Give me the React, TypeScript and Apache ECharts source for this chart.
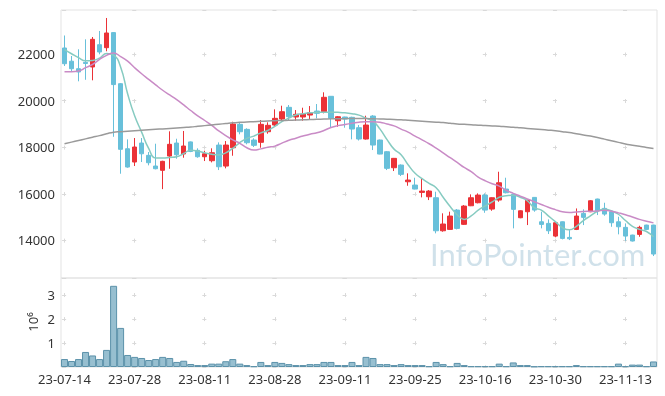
import React, { useEffect, useRef } from "react";
import * as echarts from "echarts";

const dates = [
  "23-07-14","23-07-17","23-07-18","23-07-19","23-07-20","23-07-21","23-07-24","23-07-25","23-07-26","23-07-27",
  "23-07-28","23-07-31","23-08-01","23-08-02","23-08-03","23-08-04","23-08-07","23-08-08","23-08-09","23-08-10",
  "23-08-11","23-08-14","23-08-16","23-08-17","23-08-18","23-08-21","23-08-22","23-08-23","23-08-24","23-08-25",
  "23-08-28","23-08-29","23-08-30","23-08-31","23-09-01","23-09-04","23-09-05","23-09-06","23-09-07","23-09-08",
  "23-09-11","23-09-12","23-09-13","23-09-14","23-09-15","23-09-18","23-09-19","23-09-20","23-09-21","23-09-22",
  "23-09-25","23-09-26","23-09-27","23-10-04","23-10-05","23-10-06","23-10-10","23-10-11","23-10-12","23-10-13",
  "23-10-16","23-10-17","23-10-18","23-10-19","23-10-20","23-10-23","23-10-24","23-10-25","23-10-26","23-10-27",
  "23-10-30","23-10-31","23-11-01","23-11-02","23-11-03","23-11-06","23-11-07","23-11-08","23-11-09","23-11-10",
  "23-11-13","23-11-14","23-11-15","23-11-16","23-11-17",
];

const opens = [
  22267,21699,21376,21650,21450,22408,22280,22928,20732,17936,
  17365,18181,17653,17193,17008,17622,18181,17710,18230,17867,
  17592,17421,18095,17192,17979,18986,18770,18310,18212,18667,
  18956,19214,19717,19300,19300,19385,19557,19528,20190,19140,
  19300,19287,18840,18354,19342,18310,17808,17120,17235,16517,
  16375,16060,15872,15830,14410,14470,15300,14686,15485,15615,
  15945,15343,15731,16203,15976,14970,15228,15845,14797,14728,
  14182,14797,14125,14470,15157,15228,15774,15373,15228,14797,
  14557,14225,14255,14655,14655,
];
const closes = [
  21591,21376,21235,21600,22640,22095,22912,20694,17911,17150,
  18010,17720,17335,17077,17395,18126,17678,18053,17820,17592,
  17721,17765,17162,18095,18998,18667,18195,18083,18986,18943,
  19243,19528,19313,19416,19428,19485,19458,20147,19243,19312,
  19213,18784,18354,18956,18095,17708,17094,17523,16835,16590,
  16203,16117,16117,14410,14700,15043,14513,15472,15830,15945,
  15300,15830,16475,16045,15330,15270,15730,15300,14685,14410,
  14755,14083,14067,15043,14986,15700,15270,15128,14755,14582,
  14182,13970,14557,14470,13410,
];
const lows = [
  21494,21234,20835,20900,20878,21995,22125,18450,16862,17120,
  17193,17365,17222,17050,16200,17076,17506,17550,17790,17550,
  17407,17350,17020,17094,17635,18556,18126,18010,17979,18582,
  18870,19098,19170,19140,19140,19200,19243,19458,18857,18883,
  18840,18340,18290,18330,17880,17695,17020,16978,16762,16345,
  16190,15846,15730,14300,14370,14450,14470,14660,15470,15588,
  15184,15270,15657,16017,14514,14950,14655,15228,14514,14270,
  14130,14040,14010,14440,14655,15210,15085,15056,14582,14256,
  13980,13950,14153,14440,13323,
];
const highs = [
  22804,21923,22211,22640,22740,22998,23557,22950,20760,18340,
  18397,18397,17795,18152,17420,18685,18367,18700,18250,17954,
  17850,17954,18210,18267,19097,19054,18814,18384,19170,19072,
  19630,19786,19816,19600,19700,19772,19858,20362,20200,19342,
  19313,19313,18955,19356,19380,18330,17837,17540,17265,16879,
  16690,16662,16160,16088,15160,15230,15343,15515,15975,16017,
  16017,15845,16948,16690,16017,15290,15745,15860,15228,14900,
  14770,14810,14440,15370,15330,15730,15790,15615,15300,15013,
  14727,14240,14626,14670,14670,
];
const ma5 = [
  22200,22020,21850,21720,21730,21830,22030,21960,21450,20300,
  19350,18650,17950,17540,17540,17560,17590,17730,17870,17840,
  17760,17700,17670,17760,17950,18200,18380,18480,18620,18720,
  18900,19100,19250,19390,19440,19480,19500,19510,19510,19500,
  19480,19440,19380,19250,19120,18780,18330,17920,17680,17250,
  16880,16650,16450,16260,15850,15450,15100,14900,15050,15300,
  15480,15650,15850,15920,15940,15850,15700,15400,15300,15050,
  14800,14550,14450,14600,14850,15050,15250,15330,15270,15120,
  14850,14600,14470,14380,14150,
];
const ma20 = [
  21250,21250,21280,21420,21560,21780,21950,22050,21900,21700,
  21420,21160,20920,20680,20450,20250,20050,19820,19580,19350,
  19150,18940,18700,18500,18320,18170,17980,17880,17930,18000,
  18050,18180,18300,18390,18480,18560,18620,18720,18850,18930,
  18980,19030,19080,19100,19100,19080,19000,18920,18780,18650,
  18480,18320,18150,17960,17760,17550,17350,17130,16950,16720,
  16560,16430,16330,16150,16020,15900,15780,15660,15540,15420,
  15320,15230,15200,15220,15240,15250,15260,15290,15250,15180,
  15100,15000,14900,14820,14750,
];
const ma120 = [
  18150,18220,18290,18360,18430,18500,18580,18650,18670,18690,
  18710,18730,18750,18770,18790,18810,18830,18850,18870,18900,
  18930,18960,18990,19020,19050,19070,19085,19100,19115,19130,
  19140,19150,19160,19170,19180,19190,19200,19210,19220,19225,
  19230,19235,19240,19235,19225,19215,19205,19195,19180,19160,
  19140,19120,19100,19080,19060,19030,19000,18985,18970,18950,
  18930,18915,18900,18880,18860,18835,18810,18785,18760,18735,
  18710,18670,18630,18580,18530,18480,18420,18350,18280,18210,
  18140,18090,18040,17990,17950,
];
const volumes = [
  330000,250000,330000,625000,480000,330000,710000,3375000,1625000,500000,
  420000,375000,290000,330000,420000,375000,210000,260000,125000,80000,
  80000,140000,140000,240000,330000,140000,80000,30000,210000,80000,
  210000,170000,120000,80000,80000,120000,120000,210000,210000,80000,
  80000,210000,80000,420000,375000,120000,120000,80000,120000,80000,
  80000,80000,30000,210000,120000,30000,170000,80000,30000,30000,
  30000,30000,140000,30000,190000,80000,80000,20000,30000,30000,
  30000,30000,30000,80000,30000,30000,30000,30000,30000,140000,
  30000,100000,100000,30000,230000,
];

const W = 665;
const H = 396;
const GL = 61;
const GR = 8;
const PT = 10;
const PH = 268;
const VT = 278;
const VH = 89;
const PMIN = 12380;
const PMAX = 23900;
const VMAX = 3700000;

const FONT = "'Noto Sans', 'Open Sans', sans-serif";
const UP = "#eb3237";
const DOWN = "#68c0da";
const GRIDC = "#d9d9d9";

export default function App() {
  const ref = useRef<HTMLDivElement>(null);
  useEffect(() => {
    if (!ref.current) return;
    const chart = echarts.init(ref.current, undefined, { renderer: "svg" });
    const gw = W - GL - GR;
    const colStep = (gw / dates.length) * 10;
    const hDash = [4, colStep - 4];
    const hOff = (((2 - gw / dates.length / 2) % colStep) + colStep) % colStep;
    const pStep = (2000 / (PMAX - PMIN)) * PH;
    const pFirst = ((PMAX - 22000) / (PMAX - PMIN)) * PH;
    const pOff = (((2 - pFirst) % pStep) + pStep) % pStep;
    const vStep = (1000000 / VMAX) * VH;
    const vFirst = ((VMAX - 3000000) / VMAX) * VH;
    const vOff = (((2 - vFirst) % vStep) + vStep) % vStep;

    const labelStyle = { color: "#333", fontSize: 13, fontFamily: FONT };
    const ohlc = dates.map((_, i) => [opens[i], closes[i], lows[i], highs[i]]);

    chart.setOption({
      animation: false,
      grid: [
        { left: GL, right: GR, top: PT, height: PH, show: true, borderColor: "#e3e3e3", borderWidth: 1 },
        { left: GL, right: GR, top: VT, height: VH, show: true, borderColor: "#e3e3e3", borderWidth: 1 },
      ],
      xAxis: [
        {
          type: "category", gridIndex: 0, data: dates, boundaryGap: true,
          axisLine: { show: false }, axisTick: { show: false }, axisLabel: { show: false, interval: 9 },
          splitLine: { show: true, interval: 9, alignWithLabel: true, lineStyle: { color: GRIDC, width: 1, type: [4, pStep - 4], dashOffset: pOff } },
        },
        {
          type: "category", gridIndex: 1, data: dates, boundaryGap: true,
          axisLine: { show: false }, axisTick: { show: false },
          axisLabel: { ...labelStyle, interval: 9, margin: 5 },
          splitLine: { show: true, interval: 9, alignWithLabel: true, lineStyle: { color: GRIDC, width: 1, type: [4, vStep - 4], dashOffset: vOff } },
        },
      ],
      yAxis: [
        {
          type: "value", gridIndex: 0, min: PMIN, max: PMAX, splitNumber: 5, scale: true,
          axisLine: { show: false }, axisTick: { show: false },
          axisLabel: { ...labelStyle, margin: 6, showMinLabel: false, showMaxLabel: false, formatter: (v: number) => String(v) },
          splitLine: { show: true, lineStyle: { color: GRIDC, width: 1, type: hDash, dashOffset: hOff } },
        },
        {
          type: "value", gridIndex: 1, min: 0, max: VMAX, interval: 1000000,
          axisLine: { show: false }, axisTick: { show: false },
          axisLabel: { ...labelStyle, margin: 6, showMinLabel: false, showMaxLabel: false, formatter: (v: number) => String(v / 1000000) },
          splitLine: { show: true, lineStyle: { color: GRIDC, width: 1, type: hDash, dashOffset: hOff } },
        },
      ],
      graphic: [
        {
          type: "text", left: 430, top: 238, z: -10, silent: true,
          style: { text: "InfoPointer.com", fontSize: 31, fontFamily: "Lato, 'Noto Sans', sans-serif", fill: "rgba(150,188,208,0.45)" },
        },
        {
          type: "text", x: 33, y: 322, rotation: Math.PI / 2, silent: true,
          style: { text: "10⁶", fontSize: 13, fontFamily: FONT, fill: "#333", align: "center", verticalAlign: "middle" },
        },
      ],
      series: [
        {
          type: "candlestick", xAxisIndex: 0, yAxisIndex: 0, data: ohlc, barWidth: 5,
          itemStyle: { color: UP, color0: DOWN, borderColor: UP, borderColor0: DOWN, borderWidth: 1 },
        },
        { type: "line", xAxisIndex: 0, yAxisIndex: 0, data: ma5, smooth: true, symbol: "none", lineStyle: { color: "#86cbc1", width: 1.5 } },
        { type: "line", xAxisIndex: 0, yAxisIndex: 0, data: ma20, smooth: true, symbol: "none", lineStyle: { color: "#c98bc6", width: 1.5 } },
        { type: "line", xAxisIndex: 0, yAxisIndex: 0, data: ma120, smooth: true, symbol: "none", lineStyle: { color: "#9a9a9a", width: 1.5 } },
        {
          type: "bar", xAxisIndex: 1, yAxisIndex: 1, data: volumes, barWidth: "100%", barCategoryGap: 0,
          itemStyle: { color: "#97bfd0", borderColor: "#5c92aa", borderWidth: 1 },
        },
      ],
    });
    return () => chart.dispose();
  }, []);
  return <div ref={ref} style={{ position: "fixed", left: 0, top: 0, width: W, height: H }} />;
}
